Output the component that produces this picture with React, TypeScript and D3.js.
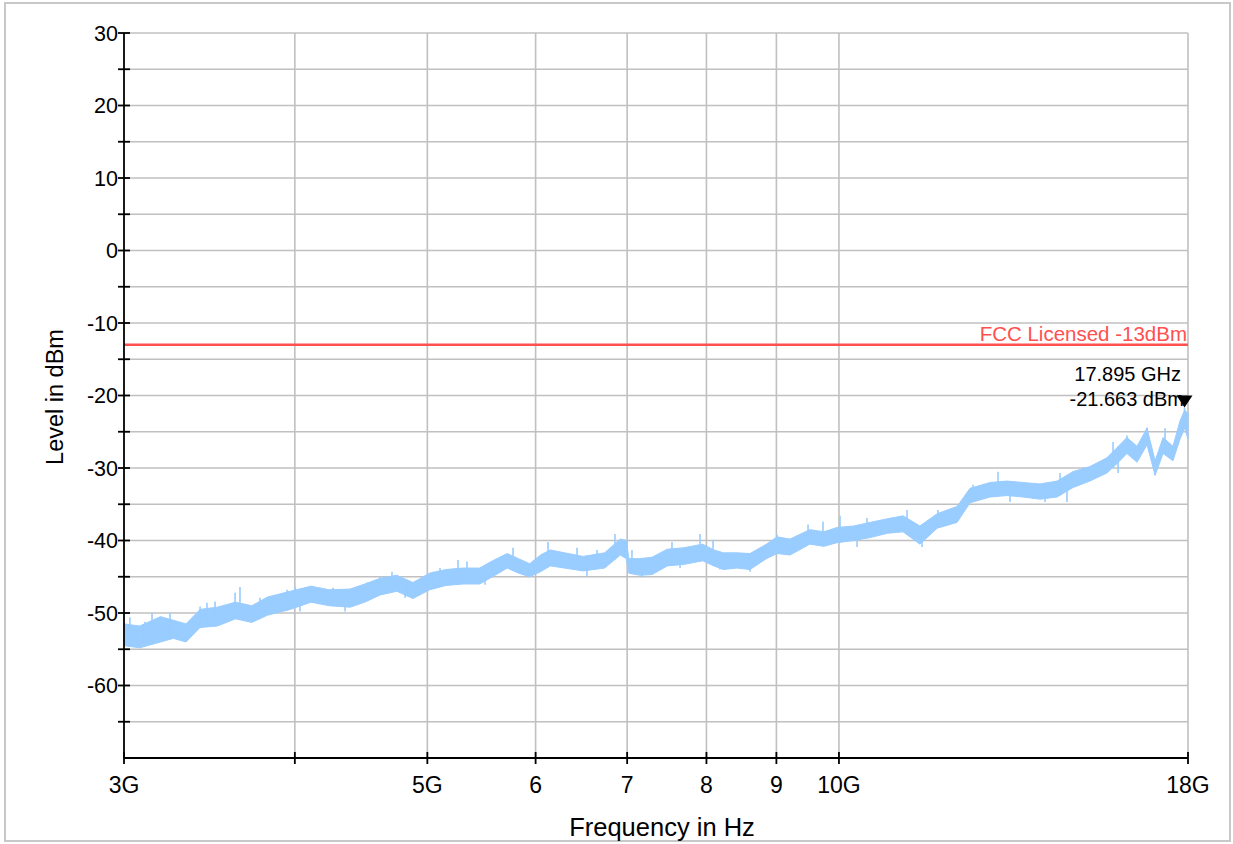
import React from "react";
import * as d3 from "d3";

// ---- Data ----
const traceFreqGHz = [
  3.0, 3.08, 3.19, 3.26, 3.33, 3.41, 3.51, 3.62, 3.72, 3.82, 3.97, 4.11, 4.24, 4.39, 4.5, 4.62, 4.75, 4.88,
  5.02, 5.16, 5.31, 5.46, 5.58, 5.72, 5.83, 5.94, 6.05, 6.15, 6.3, 6.5, 6.74, 6.92, 6.99, 7.02, 7.15, 7.3,
  7.49, 7.7, 7.95, 8.1, 8.23, 8.42, 8.61, 8.85, 9.01, 9.21, 9.52, 9.75, 9.97, 10.25, 10.54, 10.85, 11.14,
  11.46, 11.8, 12.2, 12.47, 12.9, 13.27, 13.63, 14.03, 14.44, 14.83, 15.26, 15.7, 15.97, 16.24, 16.52,
  16.8, 17.03, 17.26, 17.55, 17.76, 17.9, 18.0,
];
const traceLow = [
  -54.5, -54.8, -54.0, -53.5, -54.0, -52.0, -51.8, -50.8, -51.3, -50.3, -49.5, -48.5, -49.0, -49.2, -48.5,
  -47.5, -47.0, -48.0, -46.8, -46.2, -46.0, -46.0, -45.0, -43.8, -44.5, -45.0, -44.3, -43.5, -43.8, -44.2,
  -43.8, -42.0, -42.5, -44.5, -44.8, -44.7, -43.5, -43.3, -42.8, -43.5, -44.0, -43.8, -44.0, -42.5, -41.8,
  -42.0, -40.5, -40.8, -40.3, -40.0, -39.6, -39.0, -38.8, -40.5, -38.3, -37.5, -34.8, -34.0, -33.8, -34.0,
  -34.3, -34.0, -32.7, -31.8, -30.7, -29.4, -28.0, -29.2, -26.8, -31.0, -28.0, -29.0, -26.0, -24.5, -26.0,
];
const traceHigh = [
  -51.5, -51.8, -50.5, -51.0, -51.5, -49.5, -49.2, -48.5, -49.0, -47.8, -47.0, -46.3, -46.8, -46.7, -46.0,
  -45.2, -44.8, -45.8, -44.5, -44.0, -43.8, -43.8, -42.8, -41.8, -42.5, -43.2, -42.0, -41.3, -41.7, -42.2,
  -41.7, -39.8, -40.0, -42.5, -42.5, -42.3, -41.2, -41.0, -40.5, -41.3, -41.7, -41.7, -41.8, -40.5, -39.5,
  -39.8, -38.5, -38.8, -38.2, -38.0, -37.5, -37.0, -36.6, -38.0, -36.3, -35.3, -32.8, -32.0, -31.8, -32.0,
  -32.2, -31.8, -30.5, -29.8, -28.6, -27.2, -25.8, -27.0, -24.5, -29.0, -25.8, -27.0, -23.5, -22.0, -22.5,
];
// upward noise peaks
const peakFreqGHz = [
  3.03, 3.108, 3.145, 3.242, 3.41, 3.45, 3.497, 3.617, 3.647, 3.772, 3.948, 4.001, 4.124, 4.266, 4.412,
  4.517, 4.617, 4.711, 4.832, 5.048, 5.108, 5.265, 5.345, 5.584, 5.776, 6.127, 6.433, 6.653, 6.858, 6.975,
  7.057, 7.549, 7.914, 8.089, 9.01, 9.493, 9.735, 10.018, 10.484, 11.215, 11.815, 12.532, 13.071, 14.511,
  15.083, 15.865, 16.243, 16.8, 17.317, 17.895,
];
const peakLevel = [
  -50.6, -51.2, -50.0, -50.0, -49.1, -48.6, -48.4, -47.2, -46.4, -47.9, -46.8, -46.4, -46.4, -46.5, -46.8,
  -45.8, -45.0, -44.3, -45.4, -44.3, -43.8, -42.7, -42.9, -43.3, -41.0, -40.2, -41.0, -41.3, -39.1, -39.9,
  -41.3, -40.2, -39.1, -39.9, -39.2, -37.8, -37.4, -36.6, -36.9, -35.8, -35.8, -32.3, -30.5, -30.7, -29.9,
  -26.4, -25.5, -24.4, -24.5, -21.66,
];
// downward noise dips
const dipFreqGHz = [
  3.098, 3.728, 4.035, 4.353, 4.816, 5.51, 5.923, 6.542, 7.178, 7.652, 8.185, 8.609, 10.309, 11.502,
  13.338, 14.147, 14.682, 16.0, 17.028, 17.552,
];
const dipLevel = [
  -54.6, -51.2, -49.8, -49.8, -47.9, -46.1, -45.1, -45.0, -45.1, -43.8, -44.0, -44.3, -40.9, -40.9, -34.7,
  -34.7, -34.7, -30.7, -31.0, -28.2,
];

const xTickValuesGHz = [3, 4, 5, 6, 7, 8, 9, 10, 18];
const xTickLabels = ["3G", "", "5G", "6", "7", "8", "9", "10G", "18G"];
const yMajorTicks = [30, 20, 10, 0, -10, -20, -30, -40, -50, -60];
const yGridValues = [30, 25, 20, 15, 10, 5, 0, -5, -10, -15, -20, -25, -30, -35, -40, -45, -50, -55, -60, -65];

const limitLevel = -13;
const limitLabel = "FCC Licensed -13dBm";
const markerFreqGHz = 17.895;
const markerLevel = -21.663;
const markerLines = ["17.895 GHz", "-21.663 dBm"];

const W = 1233;
const H = 844;
const FONT = "'Liberation Sans', Arial, sans-serif";
const TRACE = "#99ccff";

export default function App() {
  const left = 124;
  const right = 1188;
  const top = 33;
  const bottom = 758;

  const x = d3.scaleLog().domain([3, 18]).range([left, right]);
  const y = d3.scaleLinear().domain([-70, 30]).range([bottom, top]);

  const band = d3
    .area<number>()
    .x((i) => x(traceFreqGHz[i]))
    .y0((i) => y(traceLow[i]))
    .y1((i) => y(traceHigh[i]))
    .curve(d3.curveLinear);
  const bandPath = band(traceFreqGHz.map((_, i) => i)) || "";

  const edgeAt = (f: number, arr: number[]) => {
    let i = d3.bisectLeft(traceFreqGHz, f);
    if (i <= 0) i = 1;
    if (i >= traceFreqGHz.length) i = traceFreqGHz.length - 1;
    const f0 = traceFreqGHz[i - 1], f1 = traceFreqGHz[i];
    const t = (f - f0) / (f1 - f0);
    return arr[i - 1] + (arr[i] - arr[i - 1]) * t;
  };

  const mx = x(markerFreqGHz);
  const my = y(markerLevel);

  return (
    <svg width={W} height={H} style={{ position: "absolute", left: 0, top: 0, background: "#fff" }}>
      <rect x={5} y={3} width={1225} height={838} fill="#fff" stroke="#c8c8c8" strokeWidth={2} />

      {/* grid */}
      {yGridValues.map((v) => (
        <line key={"gy" + v} x1={left} x2={right} y1={y(v)} y2={y(v)} stroke="#c0c0c0" strokeWidth={1.6} />
      ))}
      {xTickValuesGHz.slice(1).map((v) => (
        <line key={"gx" + v} x1={x(v)} x2={x(v)} y1={top} y2={bottom} stroke="#c0c0c0" strokeWidth={1.6} />
      ))}

      {/* trace */}
      <path d={bandPath} fill={TRACE} stroke={TRACE} strokeWidth={1} strokeLinejoin="round" />
      {peakFreqGHz.map((f, i) => (
        <line
          key={"pk" + i}
          x1={x(f)}
          x2={x(f)}
          y1={y(edgeAt(f, traceLow))}
          y2={y(peakLevel[i])}
          stroke={TRACE}
          strokeWidth={1.6}
        />
      ))}
      {dipFreqGHz.map((f, i) => (
        <line
          key={"dp" + i}
          x1={x(f)}
          x2={x(f)}
          y1={y(edgeAt(f, traceHigh))}
          y2={y(dipLevel[i])}
          stroke={TRACE}
          strokeWidth={1.6}
        />
      ))}

      {/* limit line */}
      <line x1={left} x2={right} y1={y(limitLevel)} y2={y(limitLevel)} stroke="#ff5050" strokeWidth={2.5} />
      <text x={1187} y={y(limitLevel) - 4} textAnchor="end" fontFamily={FONT} fontSize={20.5} fill="#ff5050">
        {limitLabel}
      </text>

      {/* marker */}
      <text x={1181} y={my - 27} textAnchor="end" fontFamily={FONT} fontSize={20} fill="#000">
        {markerLines[0]}
      </text>
      <text x={1184} y={my - 2} textAnchor="end" fontFamily={FONT} fontSize={20} fill="#000">
        {markerLines[1]}
      </text>
      <path d={`M${mx - 8},${my - 12} L${mx + 8},${my - 12} L${mx},${my} Z`} fill="#000" />

      {/* axes */}
      <line x1={left} x2={left} y1={top} y2={bottom} stroke="#000" strokeWidth={1.8} />
      <line x1={left} x2={right} y1={bottom} y2={bottom} stroke="#000" strokeWidth={1.8} />
      {yGridValues.map((v) => (
        <line key={"ty" + v} x1={left - 6} x2={left + 6} y1={y(v)} y2={y(v)} stroke="#000" strokeWidth={1.8} />
      ))}
      {yMajorTicks.map((v) => (
        <text
          key={"ly" + v}
          x={118}
          y={y(v)}
          dy="0.36em"
          textAnchor="end"
          fontFamily={FONT}
          fontSize={21.5}
          fill="#000"
        >
          {v}
        </text>
      ))}
      {xTickValuesGHz.map((v, i) => (
        <g key={"tx" + v}>
          <line x1={x(v)} x2={x(v)} y1={bottom - 6} y2={bottom + 6} stroke="#000" strokeWidth={1.8} />
          <text x={x(v)} y={793} textAnchor="middle" fontFamily={FONT} fontSize={23} fill="#000">
            {xTickLabels[i]}
          </text>
        </g>
      ))}

      <text x={662} y={836} textAnchor="middle" fontFamily={FONT} fontSize={25.5} fill="#000">
        Frequency in Hz
      </text>
      <text
        transform={`translate(63, ${397}) rotate(-90)`}
        textAnchor="middle"
        fontFamily={FONT}
        fontSize={23.5}
        fill="#000"
      >
        Level in dBm
      </text>
    </svg>
  );
}
